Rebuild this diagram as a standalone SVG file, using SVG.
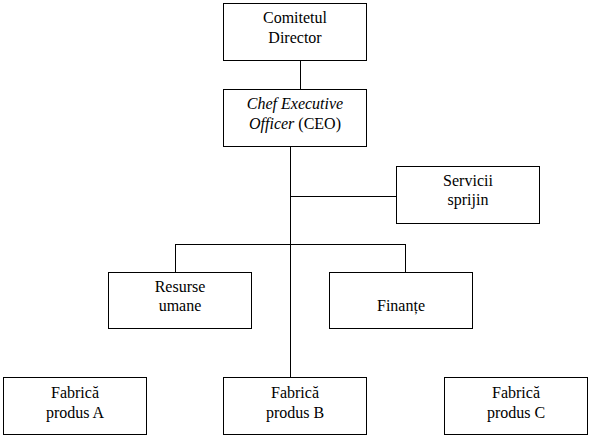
<svg xmlns="http://www.w3.org/2000/svg" width="591" height="438" viewBox="0 0 591 438">
<style>
rect{fill:#fff;stroke:#000;stroke-width:1}
line{stroke:#000;stroke-width:1}
.t{font-family:'Liberation Serif','DejaVu Serif','Noto Serif',serif;font-size:16px;text-anchor:middle;fill:#000}
.i{font-style:italic}
</style>
<rect x="0" y="0" width="591" height="438" style="stroke:none"/>
<g id="connectors">
<line x1="300.5" y1="60" x2="300.5" y2="89"/>
<line x1="290.5" y1="147" x2="290.5" y2="377"/>
<line x1="290" y1="196.5" x2="396" y2="196.5"/>
<line x1="175.5" y1="244.5" x2="405.5" y2="244.5"/>
<line x1="175.5" y1="244" x2="175.5" y2="272"/>
<line x1="405.5" y1="244" x2="405.5" y2="272"/>
</g>
<g id="comitetul">
<rect x="223.5" y="3.5" width="143" height="57"/>
<text class="t" x="295" y="23">Comitetul</text>
<text class="t" x="295" y="43">Director</text>
</g>
<g id="ceo">
<rect x="223.5" y="89.5" width="143" height="57"/>
<text class="t i" x="295" y="109">Chef Executive</text>
<text class="t" x="295" y="129"><tspan class="i">Officer</tspan> (CEO)</text>
</g>
<g id="servicii">
<rect x="396.5" y="166.5" width="143" height="57"/>
<text class="t" x="468" y="186">Servicii</text>
<text class="t" x="468" y="205">sprijin</text>
</g>
<g id="resurse">
<rect x="108.5" y="272.5" width="143" height="56"/>
<text class="t" x="180" y="292">Resurse</text>
<text class="t" x="180" y="311">umane</text>
</g>
<g id="finante">
<rect x="329.5" y="272.5" width="143" height="56"/>
<text class="t" x="401" y="311">Finanțe</text>
</g>
<g id="fabrica-a">
<rect x="3.5" y="377.5" width="143" height="57"/>
<text class="t" x="75" y="398">Fabrică</text>
<text class="t" x="75" y="418">produs A</text>
</g>
<g id="fabrica-b">
<rect x="223.5" y="377.5" width="143" height="57"/>
<text class="t" x="295" y="398">Fabrică</text>
<text class="t" x="295" y="418">produs B</text>
</g>
<g id="fabrica-c">
<rect x="444.5" y="377.5" width="143" height="57"/>
<text class="t" x="516" y="398">Fabrică</text>
<text class="t" x="516" y="418">produs C</text>
</g>
</svg>
